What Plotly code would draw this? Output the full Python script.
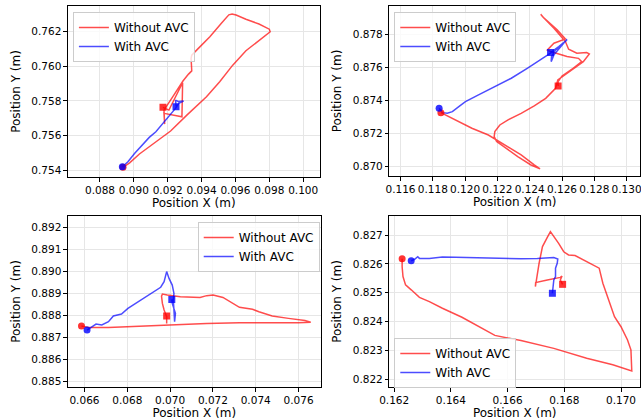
import plotly.graph_objects as go

# ---------------- data ----------------
# Panel 1
p1_red_x = [0.08936, 0.08975, 0.09033, 0.09120, 0.09217, 0.09313, 0.09429, 0.09507, 0.09584, 0.09662,
            0.09739, 0.09805, 0.09800, 0.09739, 0.09662, 0.09604, 0.09580, 0.09561, 0.09517, 0.09449,
            0.09381, 0.09342, 0.09338, 0.09342, 0.09323, 0.09290, 0.09236, 0.09178, 0.09182, 0.09178,
            0.09284, 0.09288, 0.09207, 0.09172]
p1_red_y = [0.75416, 0.75442, 0.75493, 0.75558, 0.75626, 0.75718, 0.75824, 0.75911, 0.76007, 0.76090,
            0.76152, 0.76200, 0.76215, 0.76245, 0.76272, 0.76297, 0.76302, 0.76298, 0.76249, 0.76171,
            0.76104, 0.76065, 0.76046, 0.75974, 0.75955, 0.75915, 0.75834, 0.75747, 0.75666, 0.75728,
            0.75708, 0.75905, 0.75747, 0.75763]
p1_blue_x = [0.08932, 0.08965, 0.09004, 0.09013, 0.09052, 0.09091, 0.09130, 0.09168, 0.09217, 0.09246,
             0.09265, 0.09294, 0.09265, 0.09246, 0.09250, 0.09249]
p1_blue_y = [0.75419, 0.75448, 0.75496, 0.75506, 0.75545, 0.75589, 0.75622, 0.75666, 0.75718, 0.75757,
             0.75786, 0.75799, 0.75796, 0.75805, 0.75768, 0.75766]

# Panel 2
p2_red_x = [0.11850, 0.11941, 0.12042, 0.12144, 0.12245, 0.12347, 0.12428, 0.12464, 0.12408, 0.12326,
            0.12255, 0.12195, 0.12180, 0.12184, 0.12215, 0.12266, 0.12347, 0.12428, 0.12499, 0.12560,
            0.12574, 0.12631, 0.12692, 0.12732, 0.12769, 0.12753, 0.12692, 0.12641, 0.12621, 0.12550,
            0.12479, 0.12468, 0.12489, 0.12570, 0.12621, 0.12550, 0.12509, 0.12529, 0.12631, 0.12702,
            0.12722, 0.12671, 0.12600, 0.12576, 0.12576]
p2_red_y = [0.87326, 0.87282, 0.87231, 0.87190, 0.87130, 0.87069, 0.87008, 0.86984, 0.87008, 0.87059,
            0.87109, 0.87150, 0.87180, 0.87211, 0.87251, 0.87282, 0.87322, 0.87367, 0.87413, 0.87474,
            0.87525, 0.87565, 0.87606, 0.87636, 0.87683, 0.87691, 0.87687, 0.87711, 0.87758, 0.87839,
            0.87910, 0.87924, 0.87900, 0.87829, 0.87774, 0.87748, 0.87707, 0.87697, 0.87667, 0.87656,
            0.87636, 0.87596, 0.87549, 0.87515, 0.87488]
p2_blue_x = [0.11839, 0.11860, 0.11890, 0.11921, 0.11961, 0.12002, 0.12083, 0.12184, 0.12286, 0.12387,
             0.12468, 0.12529, 0.12590, 0.12631, 0.12621, 0.12550, 0.12533, 0.12535, 0.12560, 0.12631,
             0.12580, 0.12529]
p2_blue_y = [0.87353, 0.87326, 0.87322, 0.87332, 0.87363, 0.87393, 0.87434, 0.87484, 0.87535, 0.87596,
             0.87646, 0.87687, 0.87727, 0.87772, 0.87758, 0.87677, 0.87636, 0.87667, 0.87707, 0.87768,
             0.87727, 0.87691]

# Panel 3
p3_red_x = [0.06586, 0.06620, 0.06712, 0.06865, 0.07018, 0.07171, 0.07324, 0.07477, 0.07599, 0.07657,
            0.07630, 0.07553, 0.07477, 0.07415, 0.07385, 0.07324, 0.07293, 0.07247, 0.07201, 0.07171,
            0.07140, 0.07109, 0.07048, 0.06987, 0.06964, 0.06960, 0.06964, 0.06972, 0.06984, 0.06984,
            0.06984]
p3_red_y = [0.88752, 0.88746, 0.88746, 0.88752, 0.88760, 0.88764, 0.88767, 0.88766, 0.88767, 0.88770,
            0.88777, 0.88787, 0.88798, 0.88817, 0.88828, 0.88837, 0.88855, 0.88882, 0.88893, 0.88890,
            0.88882, 0.88882, 0.88885, 0.88893, 0.88897, 0.88888, 0.88855, 0.88825, 0.88795, 0.88764,
            0.88798]
p3_blue_x = [0.06612, 0.06635, 0.06654, 0.06681, 0.06712, 0.06735, 0.06773, 0.06803, 0.06834, 0.06865,
             0.06903, 0.06934, 0.06956, 0.06972, 0.06984, 0.06995, 0.07010, 0.07018, 0.07015, 0.07018,
             0.07021, 0.07025, 0.07010, 0.07008]
p3_blue_y = [0.88734, 0.88749, 0.88761, 0.88757, 0.88772, 0.88798, 0.88807, 0.88832, 0.88852, 0.88870,
             0.88893, 0.88913, 0.88928, 0.88953, 0.88999, 0.88968, 0.88938, 0.88900, 0.88870, 0.88825,
             0.88772, 0.88810, 0.88855, 0.88873]

# Panel 4
p4_red_x = [0.16228, 0.16228, 0.16231, 0.16240, 0.16260, 0.16289, 0.16324, 0.16370, 0.16439, 0.16497,
            0.16555, 0.16647, 0.16763, 0.16879, 0.16971, 0.17038, 0.17035, 0.17023, 0.17000, 0.16977,
            0.16959, 0.16936, 0.16923, 0.16879, 0.16838, 0.16815, 0.16798, 0.16780, 0.16763, 0.16751,
            0.16740, 0.16723, 0.16711, 0.16703, 0.16698, 0.16699, 0.16740, 0.16786, 0.16792, 0.16786,
            0.16794]
p4_red_y = [0.82618, 0.82590, 0.82556, 0.82527, 0.82510, 0.82484, 0.82469, 0.82446, 0.82415, 0.82382,
            0.82352, 0.82334, 0.82307, 0.82273, 0.82250, 0.82229, 0.82302, 0.82336, 0.82382, 0.82417,
            0.82469, 0.82533, 0.82585, 0.82608, 0.82629, 0.82631, 0.82642, 0.82671, 0.82697, 0.82712,
            0.82692, 0.82660, 0.82602, 0.82556, 0.82521, 0.82535, 0.82544, 0.82553, 0.82558, 0.82544,
            0.82529]
p4_blue_x = [0.16260, 0.16272, 0.16283, 0.16289, 0.16324, 0.16370, 0.16416, 0.16474, 0.16532, 0.16590,
             0.16647, 0.16705, 0.16763, 0.16777, 0.16775, 0.16769, 0.16769, 0.16763, 0.16760, 0.16758]
p4_blue_y = [0.82611, 0.82616, 0.82625, 0.82619, 0.82619, 0.82624, 0.82623, 0.82622, 0.82620, 0.82618,
             0.82618, 0.82619, 0.82622, 0.82617, 0.82602, 0.82585, 0.82556, 0.82544, 0.82521, 0.82498]

series_names = ["Without AVC", "With AVC"]

# axis ranges / ticks per panel
x_ranges = [[0.08611, 0.10097], [0.11531, 0.13083], [0.06523, 0.07703], [0.16183, 0.17067]]
y_ranges = [[0.75360, 0.76349], [0.86941, 0.87974], [0.88476, 0.89251], [0.82173, 0.82766]]
x_dticks = [0.002, 0.002, 0.002, 0.002]
y_dticks = [0.002, 0.002, 0.001, 0.001]

# ---------------- figure ----------------
W, H = 641, 420
FONT = "DejaVu Sans"
RED_LINE = "rgba(255,0,0,0.7)"
BLUE_LINE = "rgba(0,0,255,0.7)"
RED_MK = "rgba(255,0,0,0.8)"
BLUE_MK = "rgba(0,0,255,0.8)"

panels = [
    (p1_red_x, p1_red_y, p1_blue_x, p1_blue_y),
    (p2_red_x, p2_red_y, p2_blue_x, p2_blue_y),
    (p3_red_x, p3_red_y, p3_blue_x, p3_blue_y),
    (p4_red_x, p4_red_y, p4_blue_x, p4_blue_y),
]

# pixel boxes of the axes (left, right, top, bottom)
boxes = [(59, 315, 6, 177), (386, 641, 6, 176), (59, 316, 216, 387), (386, 641, 216, 387)]
legend_pos = [(64, 12), (391, 12), (191, 222), (391, 338)]

fig = go.Figure()
layout = dict(
    width=W, height=H, margin=dict(l=0, r=0, t=0, b=0),
    paper_bgcolor="white", plot_bgcolor="white",
    font=dict(family=FONT, size=10.5, color="black"),
)

for i, (rx, ry, bx, by) in enumerate(panels):
    n = i + 1
    xa = "x" if n == 1 else f"x{n}"
    ya = "y" if n == 1 else f"y{n}"
    lg = "legend" if n == 1 else f"legend{n}"
    fig.add_trace(go.Scatter(x=rx, y=ry, mode="lines", name=series_names[0],
                             line=dict(color=RED_LINE, width=1.5), xaxis=xa, yaxis=ya, legend=lg))
    fig.add_trace(go.Scatter(x=bx, y=by, mode="lines", name=series_names[1],
                             line=dict(color=BLUE_LINE, width=1.5), xaxis=xa, yaxis=ya, legend=lg))
    # start (circle) and end (square) markers
    fig.add_trace(go.Scatter(x=[rx[0]], y=[ry[0]], mode="markers", showlegend=False,
                             marker=dict(color=RED_MK, size=7, symbol="circle"), xaxis=xa, yaxis=ya))
    fig.add_trace(go.Scatter(x=[bx[0]], y=[by[0]], mode="markers", showlegend=False,
                             marker=dict(color=BLUE_MK, size=7, symbol="circle"), xaxis=xa, yaxis=ya))
    fig.add_trace(go.Scatter(x=[rx[-1]], y=[ry[-1]], mode="markers", showlegend=False,
                             marker=dict(color=RED_MK, size=7, symbol="square"), xaxis=xa, yaxis=ya))
    fig.add_trace(go.Scatter(x=[bx[-1]], y=[by[-1]], mode="markers", showlegend=False,
                             marker=dict(color=BLUE_MK, size=7, symbol="square"), xaxis=xa, yaxis=ya))

    l, r, t, b = boxes[i]
    common = dict(showline=True, linecolor="black", linewidth=1, mirror=True,
                  showgrid=True, gridcolor="#e6e6e6", gridwidth=0.8,
                  ticks="outside", ticklen=3.5, tickwidth=0.8, tickcolor="black",
                  tickformat=".3f", zeroline=False, tickangle=0, ticklabeloverflow="allow",
                  tickfont=dict(family=FONT, size=10.5, color="black"))
    layout["xaxis" if n == 1 else f"xaxis{n}"] = dict(
        common, domain=[l / W, r / W], range=x_ranges[i], dtick=x_dticks[i], tick0=0,
        anchor=ya, title=dict(text="Position X (m)", font=dict(family=FONT, size=12), standoff=1))
    layout["yaxis" if n == 1 else f"yaxis{n}"] = dict(
        common, domain=[1 - b / H, 1 - t / H], range=y_ranges[i], dtick=y_dticks[i], tick0=0,
        anchor=xa, title=dict(text="Position Y (m)", font=dict(family=FONT, size=12), standoff=8))
    lx, ly = legend_pos[i]
    layout[lg] = dict(x=lx / W, y=1 - ly / H, xanchor="left", yanchor="top",
                      bgcolor="rgba(255,255,255,0.8)", bordercolor="#cccccc", borderwidth=1,
                      font=dict(family=FONT, size=12, color="black"), itemwidth=30,
                      tracegroupgap=0)

fig.update_layout(**layout)
fig.write_html("out.html")
